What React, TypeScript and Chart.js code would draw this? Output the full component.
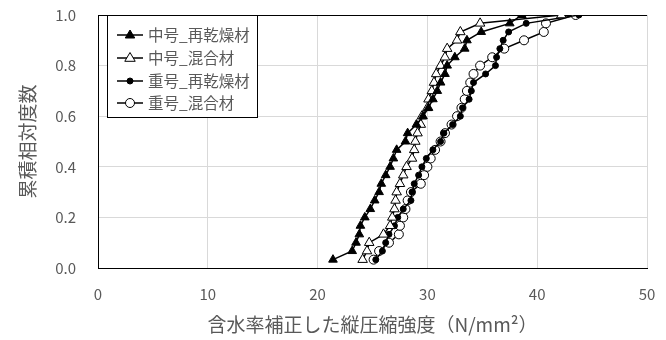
import React, { useEffect, useRef } from "react";
import { Chart, registerables } from "chart.js";

Chart.register(...registerables);

const cumFreq = [0.033, 0.067, 0.1, 0.133, 0.167, 0.2, 0.233, 0.267, 0.3, 0.333, 0.367, 0.4, 0.433, 0.467, 0.5, 0.533, 0.567, 0.6, 0.633, 0.667, 0.7, 0.733, 0.767, 0.8, 0.833, 0.867, 0.9, 0.933, 0.967, 1.0];

const seriesNames = ["中号_再乾燥材", "中号_混合材", "重号_再乾燥材", "重号_混合材"];

const midRedried = [21.4, 23.15, 23.5, 23.8, 23.9, 24.3, 24.8, 25.2, 25.6, 25.8, 26.2, 26.6, 26.9, 27.2, 28.0, 28.2, 29.0, 29.6, 30.1, 30.5, 30.9, 31.2, 31.6, 31.8, 32.5, 33.4, 33.6, 34.9, 37.5, 38.6];
const midMixed = [24.1, 24.5, 24.7, 26.0, 26.6, 26.8, 27.0, 27.1, 27.2, 27.5, 27.8, 28.1, 28.6, 28.8, 28.9, 29.1, 29.4, 29.5, 30.0, 30.1, 30.4, 30.6, 30.8, 31.2, 31.6, 31.8, 32.7, 33.0, 34.8, 42.2];
const heavyRedried = [25.3, 25.9, 26.2, 26.5, 27.0, 27.3, 27.8, 28.5, 28.6, 28.8, 29.2, 29.5, 29.9, 30.5, 31.2, 31.5, 32.3, 33.0, 33.2, 33.8, 34.0, 34.2, 35.3, 36.2, 36.3, 36.6, 36.9, 37.4, 39.0, 43.8];
const heavyMixed = [25.1, 25.6, 26.5, 27.4, 27.5, 27.8, 28.0, 28.2, 28.5, 29.4, 29.7, 30.0, 30.3, 30.7, 31.2, 31.6, 32.2, 32.7, 33.1, 33.4, 33.6, 33.9, 34.2, 34.8, 35.9, 37.0, 38.8, 40.6, 40.8, 43.5];

const xTitle = "含水率補正した縦圧縮強度（N/mm²）";
const yTitle = "累積相対度数";

const TEXT = "#595959";
const FONT = "'Noto Sans CJK JP', 'DejaVu Sans', sans-serif";

const markers = [
  { style: "triangle", radius: 5, fill: "#000000" },
  { style: "triangle", radius: 5.5, fill: "#ffffff" },
  { style: "circle", radius: 3, fill: "#000000" },
  { style: "circle", radius: 4.5, fill: "#ffffff" },
];

const legendPlugin = {
  id: "boxLegend",
  afterDraw(chart: any) {
    const ctx = chart.ctx;
    const x0 = 107, y0 = 15, w = 150, h = 102;
    ctx.save();
    ctx.fillStyle = "#ffffff";
    ctx.fillRect(x0, y0, w, h);
    ctx.strokeStyle = "#000000";
    ctx.lineWidth = 1;
    ctx.strokeRect(x0 + 0.5, y0 + 0.5, w, h);
    const rows = [35, 58, 81, 103];
    seriesNames.forEach((name, i) => {
      const y = rows[i];
      ctx.strokeStyle = "#000000";
      ctx.lineWidth = 1.5;
      ctx.beginPath();
      ctx.moveTo(117, y);
      ctx.lineTo(143, y);
      ctx.stroke();
      const m = markers[i];
      ctx.fillStyle = m.fill;
      ctx.lineWidth = 1;
      ctx.beginPath();
      if (m.style === "triangle") {
        const r = m.radius;
        ctx.moveTo(130, y - r);
        ctx.lineTo(130 + r * 0.95, y + r * 0.6);
        ctx.lineTo(130 - r * 0.95, y + r * 0.6);
        ctx.closePath();
      } else {
        ctx.arc(130, y, m.radius, 0, Math.PI * 2);
      }
      ctx.fill();
      ctx.stroke();
      ctx.fillStyle = TEXT;
      ctx.font = `15.5px ${FONT}`;
      ctx.textBaseline = "middle";
      ctx.textAlign = "left";
      ctx.fillText(name, 148, y);
    });
    ctx.restore();
  },
};

export default function App() {
  const ref = useRef<HTMLCanvasElement | null>(null);

  useEffect(() => {
    document.body.style.margin = "0";
    const allX = [midRedried, midMixed, heavyRedried, heavyMixed];
    const datasets = allX.map((xs, i) => ({
      label: seriesNames[i],
      data: xs.map((x, j) => ({ x, y: cumFreq[j] })),
      borderColor: "#000000",
      borderWidth: 1.5,
      backgroundColor: markers[i].fill,
      pointStyle: markers[i].style as any,
      pointRadius: markers[i].radius,
      pointBorderColor: "#000000",
      pointBorderWidth: 1,
      pointBackgroundColor: markers[i].fill,
      showLine: true,
      tension: 0,
    }));
    const chart = new Chart(ref.current as HTMLCanvasElement, {
      type: "scatter",
      data: { datasets },
      plugins: [legendPlugin],
      options: {
        animation: false,
        responsive: false,
        maintainAspectRatio: false,
        layout: { padding: { left: 0, right: 19, top: 15, bottom: 0 } },
        plugins: { legend: { display: false }, tooltip: { enabled: false } },
        scales: {
          x: {
            type: "linear",
            min: 0,
            max: 50,
            ticks: { stepSize: 10, color: TEXT, font: { family: FONT, size: 15 }, padding: 0 },
            grid: { color: "#d9d9d9", drawTicks: true, tickLength: 17, tickColor: "rgba(0,0,0,0)" },
            border: { color: "#000000", width: 1 },
            title: { display: true, text: xTitle, color: TEXT, font: { family: FONT, size: 19 }, padding: { top: 0, bottom: 4 } },
            afterFit(scale: any) { scale.height = 72; },
          },
          y: {
            type: "linear",
            min: 0,
            max: 1,
            ticks: { stepSize: 0.2, color: TEXT, font: { family: FONT, size: 15 }, padding: 0, callback: (v: any) => Number(v).toFixed(1) },
            grid: {
              color: (c: any) => (c.tick && c.tick.value === 1 ? "#000000" : "#d9d9d9"),
              drawTicks: true,
              tickLength: 22,
              tickColor: "rgba(0,0,0,0)",
            },
            border: { color: "#000000", width: 1 },
            title: { display: true, text: yTitle, color: TEXT, font: { family: FONT, size: 19 }, padding: { top: 16, bottom: 0 } },
            afterFit(scale: any) { scale.width = 98; },
          },
        },
      },
    });
    return () => chart.destroy();
  }, []);

  return (
    <div style={{ width: 666, height: 340, background: "#ffffff" }}>
      <canvas ref={ref} width={666} height={340} style={{ width: 666, height: 340, display: "block" }} />
    </div>
  );
}
